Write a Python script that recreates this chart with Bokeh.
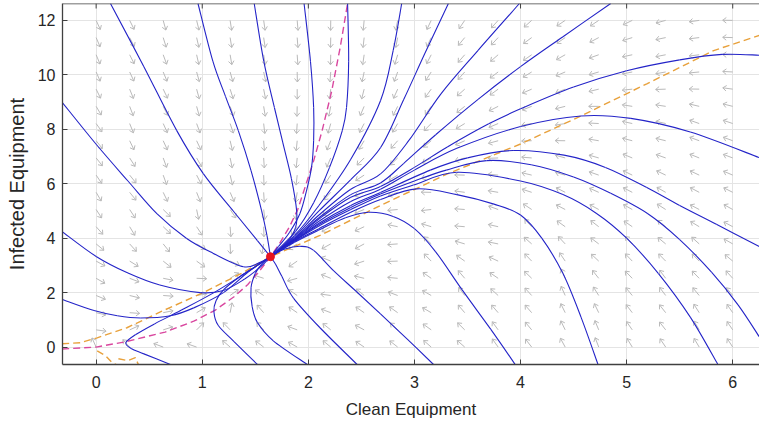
import numpy as np
from bokeh.plotting import figure
from bokeh.models import Range1d, FixedTicker, Span
from bokeh.embed import file_html
from bokeh.resources import INLINE

# ---------------- data ----------------
X_TICKS = [0, 1, 2, 3, 4, 5, 6]
Y_TICKS = [0, 2, 4, 6, 8, 10, 12]

EQ_X = [1.643]
EQ_Y = [3.32]

# quiver grid
ARROW_X = [0.0, 0.316, 0.632, 0.947, 1.263, 1.579, 1.895, 2.211, 2.526, 2.842,
           3.158, 3.474, 3.789, 4.105, 4.421, 4.737, 5.053, 5.368, 5.684, 6.0]
ARROW_Y = [0.0, 0.632, 1.263, 1.895, 2.526, 3.158, 3.789, 4.421, 5.053, 5.684,
           6.316, 6.947, 7.579, 8.211, 8.842, 9.474, 10.105, 10.737, 11.368, 12.0]

# nullclines
MAG_X = [-0.32, 0.0, 0.27, 0.65, 0.92, 1.12, 1.3, 1.43, 1.55, 1.643, 1.72, 1.82, 1.90, 1.98, 2.05, 2.13, 2.22, 2.30, 2.37]
MAG_Y = [-0.07, 0.0, 0.19, 0.55, 0.95, 1.35, 1.85, 2.3, 2.85, 3.32, 3.75, 4.4, 5.05, 6.0, 6.84, 7.95, 9.4, 11.0, 12.62]
ORA_X = [-0.32, -0.15, 0.01, 0.29, 0.61, 1.01, 1.39, 1.643, 2.11, 2.68, 3.31, 4.0, 4.57, 5.19, 5.82, 6.25]
ORA_Y = [0.12, 0.16, 0.34, 0.71, 1.3, 2.0, 2.75, 3.32, 4.1, 5.2, 6.36, 7.46, 8.49, 9.67, 10.89, 11.45]
ORA2_X = [0.01, 0.09, 0.15, 0.2]
ORA2_Y = [-0.14, -0.32, -0.57, -0.66]
ORA3_X = [0.21, 0.3, 0.37, 0.4]
ORA3_Y = [-0.43, -0.5, -0.39, -0.66]

# trajectories (blue)
T1_X = [0.135, 0.45, 0.76, 1.01, 1.29, 1.52, 1.643]
T1_Y = [12.62, 10.3, 7.95, 6.37, 5.01, 3.91, 3.32]
T2_X = [0.96, 1.1, 1.22, 1.34, 1.46, 1.56, 1.61, 1.643]
T2_Y = [12.62, 10.5, 9.2, 7.95, 6.48, 5.0, 4.1, 3.32]
T3_X = [1.49, 1.58, 1.68, 1.76, 1.84, 1.89, 1.88, 1.8, 1.643]
T3_Y = [12.62, 10.5, 8.8, 7.5, 6.2, 5.0, 4.4, 3.85, 3.32]
T4_X = [1.96, 2.02, 2.05, 2.05, 2.03, 1.98, 1.92, 1.82, 1.72, 1.643]
T4_Y = [12.62, 10.5, 8.8, 7.6, 6.6, 5.7, 4.9, 4.2, 3.7, 3.32]
T5_X = [2.37, 2.38, 2.36, 2.32, 2.2, 2.05, 1.88, 1.643]
T5_Y = [12.62, 10.5, 8.8, 7.95, 6.6, 5.3, 4.25, 3.32]
T6_X = [2.88, 2.8, 2.68, 2.4, 2.1, 1.87, 1.643]
T6_Y = [12.62, 10.9, 9.05, 6.9, 5.2, 4.1, 3.32]
T7_X = [3.32, 3.1, 2.9, 2.68, 2.4, 2.1, 1.87, 1.643]
T7_Y = [12.62, 10.8, 9.1, 7.32, 6.15, 5.0, 4.05, 3.32]
T8_X = [3.99, 3.6, 3.25, 2.95, 2.68, 2.4, 2.1, 1.87, 1.643]
T8_Y = [12.62, 10.9, 9.3, 7.6, 6.36, 5.8, 4.85, 4.0, 3.32]
T9_X = [4.85, 4.4, 4.0, 3.6, 3.2, 2.9, 2.68, 2.4, 2.1, 1.87, 1.643]
T9_Y = [12.62, 11.4, 10.3, 9.1, 7.8, 6.75, 6.03, 5.6, 4.75, 3.98, 3.32]
A_X = [1.643, 1.87, 2.1, 2.4, 2.68, 3.0, 3.31, 3.7, 4.0, 4.5, 5.0, 5.5, 5.9, 6.25]
A_Y = [3.32, 3.96, 4.7, 5.5, 5.9, 6.6, 7.35, 8.2, 8.75, 9.55, 10.15, 10.55, 10.75, 10.72]
B_X = [1.643, 1.87, 2.1, 2.4, 2.68, 3.0, 3.4, 4.0, 4.57, 5.04, 5.6, 6.25]
B_Y = [3.32, 3.94, 4.62, 5.35, 5.8, 6.5, 7.3, 8.1, 8.49, 8.4, 7.9, 6.96]
C_X = [1.643, 1.87, 2.1, 2.4, 2.68, 3.15, 3.5, 3.93, 4.41, 4.8, 5.19, 5.5, 5.85, 6.25]
C_Y = [3.32, 3.92, 4.55, 5.2, 5.68, 6.5, 6.95, 7.22, 7.05, 6.6, 5.86, 5.2, 4.5, 3.69]
N_X = [1.643, 1.87, 2.1, 2.4, 2.68, 3.0, 3.3, 3.68, 4.1, 4.5, 4.85, 5.2, 5.5, 5.8, 6.05, 6.25]
N_Y = [3.32, 3.91, 4.5, 5.13, 5.62, 6.1, 6.5, 6.85, 6.7, 6.25, 5.65, 4.9, 3.95, 2.75, 1.55, 0.38]
D_X = [1.643, 1.87, 2.1, 2.4, 2.68, 2.99, 3.4, 4.0, 4.4, 4.72, 5.0, 5.3, 5.6, 5.86]
D_Y = [3.32, 3.9, 4.45, 5.05, 5.55, 5.95, 6.42, 6.1, 5.6, 4.9, 4.0, 2.7, 1.1, -0.64]
E_X = [1.643, 1.87, 2.1, 2.4, 2.68, 3.02, 3.4, 3.75, 4.0, 4.2, 4.4, 4.57, 4.73]
E_Y = [3.32, 3.88, 4.35, 4.95, 5.42, 5.81, 5.6, 5.25, 4.85, 4.0, 2.7, 1.1, -0.64]
F_X = [1.643, 1.87, 2.1, 2.35, 2.57, 2.8, 3.0, 3.2, 3.45, 3.72, 3.95]
F_Y = [3.32, 3.85, 4.3, 4.75, 4.95, 4.8, 4.35, 3.5, 2.1, 0.65, -0.64]
H_X = [1.643, 1.78, 1.93, 2.05, 2.24, 2.45, 2.68, 2.93, 3.18]
H_Y = [3.32, 3.6, 3.7, 3.55, 2.8, 2.05, 1.22, 0.3, -0.64]
G_X = [1.643, 1.69, 1.75, 1.86, 2.11, 2.46]
G_Y = [3.32, 3.05, 2.6, 1.8, 0.71, -0.64]
K_X = [1.643, 1.56, 1.5, 1.46, 1.47, 1.52, 1.67, 1.99]
K_Y = [3.32, 3.05, 2.7, 2.18, 1.5, 0.9, 0.23, -0.64]
L_X = [1.643, 1.52, 1.36, 1.2, 1.13, 1.11, 1.15, 1.3, 1.52]
L_Y = [3.32, 3.0, 2.6, 2.1, 1.7, 1.3, 0.8, 0.2, -0.64]
U_X = [1.643, 1.4, 1.11, 0.8, 0.55, 0.37, 0.28, 0.33, 0.45, 0.70]
U_Y = [3.32, 2.7, 2.0, 1.35, 0.85, 0.45, 0.16, -0.05, -0.25, -0.64]
A1_X = [-0.32, 0.0, 0.3, 0.575, 0.85, 1.1, 1.39, 1.55, 1.643]
A1_Y = [8.99, 7.45, 6.1, 4.89, 4.0, 3.45, 2.95, 3.12, 3.32]
A2_X = [-0.32, 0.0, 0.3, 0.6, 0.98, 1.2, 1.4, 1.55, 1.643]
A2_Y = [4.24, 3.33, 2.72, 2.28, 2.0, 2.08, 2.5, 2.95, 3.32]
A3_X = [-0.32, -0.02, 0.2, 0.42, 0.7, 0.92, 1.2, 1.43, 1.643]
A3_Y = [1.75, 1.34, 1.15, 1.07, 1.15, 1.44, 2.0, 2.75, 3.32]

# ---------------- figure ----------------
W, H = 759, 425
BL, BR, BT, BB = 62, 0, 3, 61
X_LO = -0.317
Y_LO, Y_HI = -0.64, 12.62
SX = 106.1
X_HI = X_LO + (W - BL - BR) / SX
SY = (H - BT - BB) / (Y_HI - Y_LO)

p = figure(width=W, height=H, x_range=Range1d(X_LO, X_HI), y_range=Range1d(Y_LO, Y_HI),
           output_backend="svg", toolbar_location=None,
           min_border_left=BL, min_border_right=BR, min_border_top=BT, min_border_bottom=BB)
p.background_fill_color = "white"
p.border_fill_color = "white"
p.outline_line_color = None

AX_COL = "#404040"
FONT = "Liberation Sans"
for ax in (p.xaxis[0], p.yaxis[0]):
    ax.major_tick_in = 5
    ax.major_tick_out = 0
    ax.minor_tick_line_color = None
    ax.axis_line_color = AX_COL
    ax.axis_line_width = 1.3
    ax.major_tick_line_color = AX_COL
    ax.major_label_text_font = FONT
    ax.major_label_text_font_size = "16px"
    ax.major_label_text_color = "#262626"
    ax.axis_label_text_font = FONT
    ax.axis_label_text_font_style = "normal"
    ax.axis_label_text_color = "#262626"
p.xaxis[0].ticker = FixedTicker(ticks=X_TICKS)
p.yaxis[0].ticker = FixedTicker(ticks=Y_TICKS)
p.xaxis[0].axis_label = "Clean Equipment"
p.yaxis[0].axis_label = "Infected Equipment"
p.xaxis[0].axis_label_text_font_size = "17px"
p.yaxis[0].axis_label_text_font_size = "20px"
p.xaxis[0].major_label_standoff = 11
p.yaxis[0].major_label_standoff = 7
p.xaxis[0].axis_label_standoff = 9
p.yaxis[0].axis_label_standoff = 7

# top border and its tick marks
p.add_layout(Span(location=Y_HI, dimension="width", line_color=AX_COL, line_width=1.3))
p.segment(x0=X_TICKS, y0=[Y_HI] * len(X_TICKS), x1=X_TICKS,
          y1=[Y_HI - 5.0 / SY] * len(X_TICKS), line_color=AX_COL, line_width=1)

p.xgrid.ticker = FixedTicker(ticks=X_TICKS)
p.ygrid.ticker = FixedTicker(ticks=Y_TICKS)
p.grid.grid_line_color = "#e4e4e4"
p.grid.grid_line_width = 1

# ---------------- quiver arrows (directions taken from the traced trajectories) ----------------
curves = [(T1_X, T1_Y), (T2_X, T2_Y), (T3_X, T3_Y), (T4_X, T4_Y), (T5_X, T5_Y),
          (T6_X, T6_Y), (T7_X, T7_Y), (T8_X, T8_Y), (T9_X, T9_Y),
          (A_X, A_Y), (B_X, B_Y), (C_X, C_Y), (N_X, N_Y), (D_X, D_Y), (E_X, E_Y), (F_X, F_Y),
          (H_X, H_Y), (G_X, G_Y), (K_X, K_Y), (L_X, L_Y), (U_X, U_Y),
          (A1_X, A1_Y), (A2_X, A2_Y), (A3_X, A3_Y)]

gx, gy = np.meshgrid(ARROW_X, ARROW_Y)
gx = gx.ravel(); gy = gy.ravel()
px = gx * SX; py = gy * SY
acc = np.zeros((len(px), 2))
for cx, cy in curves:
    cx = np.asarray(cx, float); cy = np.asarray(cy, float)
    if abs(cx[0] - EQ_X[0]) < 1e-6 and abs(cy[0] - EQ_Y[0]) < 1e-6:
        cx = cx[::-1]; cy = cy[::-1]
    sx = cx * SX; sy = cy * SY
    ax_, ay_ = sx[:-1], sy[:-1]
    vx, vy = sx[1:] - ax_, sy[1:] - ay_
    l2 = vx ** 2 + vy ** 2
    t = ((px[:, None] - ax_) * vx + (py[:, None] - ay_) * vy) / l2
    t = np.clip(t, 0, 1)
    d = np.hypot(px[:, None] - (ax_ + t * vx), py[:, None] - (ay_ + t * vy))
    k = np.argmin(d, axis=1)
    dm = d[np.arange(len(px)), k]
    ln = np.sqrt(l2[k])
    w = 1.0 / (dm + 4.0) ** 2
    acc[:, 0] += w * vx[k] / ln
    acc[:, 1] += w * vy[k] / ln
nrm = np.hypot(acc[:, 0], acc[:, 1]) + 1e-12
ux = acc[:, 0] / nrm; uy = acc[:, 1] / nrm

ALEN, HLEN, HANG = 10.0, 4.5, np.deg2rad(38)
hx = gx + ALEN * ux / SX
hy = gy + ALEN * uy / SY
xs, ys = [], []
for i in range(len(gx)):
    xs.append([gx[i], hx[i]]); ys.append([gy[i], hy[i]])
    for s in (1, -1):
        c, sn = np.cos(np.pi + s * HANG), np.sin(np.pi + s * HANG)
        bx = ux[i] * c - uy[i] * sn
        by = ux[i] * sn + uy[i] * c
        xs.append([hx[i], hx[i] + HLEN * bx / SX]); ys.append([hy[i], hy[i] + HLEN * by / SY])
p.multi_line(xs, ys, line_color="#bababa", line_width=1)

# ---------------- nullclines ----------------
p.line(MAG_X, MAG_Y, line_color="#d9479f", line_width=1.4, line_dash="7 4")
for ox, oy in ((ORA_X, ORA_Y), (ORA2_X, ORA2_Y), (ORA3_X, ORA3_Y)):
    p.line(ox, oy, line_color="#e8a13c", line_width=1.4, line_dash="7 4")

# ---------------- trajectories, drawn as smooth curves through the traced points ----------------
bz = {k: [] for k in ("x0", "y0", "x1", "y1", "cx0", "cy0", "cx1", "cy1")}
for cx, cy in curves:
    P = np.column_stack([np.asarray(cx, float) * SX, np.asarray(cy, float) * SY])
    n = len(P)
    for i in range(n - 1):
        prv = P[max(i - 1, 0)]; nxt = P[min(i + 2, n - 1)]
        c0 = P[i] + (P[i + 1] - prv) / 6.0
        c1 = P[i + 1] - (nxt - P[i]) / 6.0
        bz["x0"].append(P[i][0] / SX); bz["y0"].append(P[i][1] / SY)
        bz["x1"].append(P[i + 1][0] / SX); bz["y1"].append(P[i + 1][1] / SY)
        bz["cx0"].append(c0[0] / SX); bz["cy0"].append(c0[1] / SY)
        bz["cx1"].append(c1[0] / SX); bz["cy1"].append(c1[1] / SY)
p.bezier(x0=bz["x0"], y0=bz["y0"], x1=bz["x1"], y1=bz["y1"],
         cx0=bz["cx0"], cy0=bz["cy0"], cx1=bz["cx1"], cy1=bz["cy1"],
         line_color="#2424c8", line_width=1.1)

p.scatter(EQ_X, EQ_Y, size=8, fill_color="#e8141e", line_color="#e8141e")

open("out.html", "w").write(file_html(p, INLINE))
